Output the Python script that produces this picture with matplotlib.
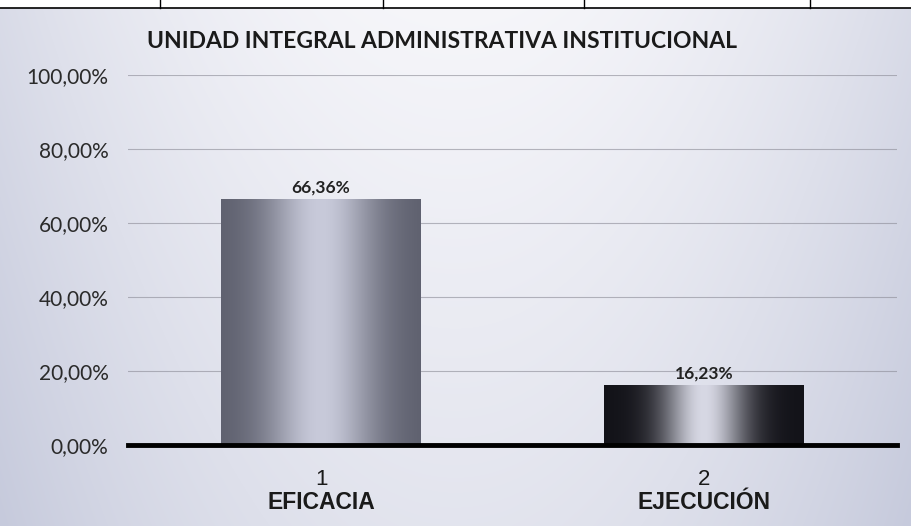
import numpy as np
import matplotlib
matplotlib.use("Agg")
from matplotlib import pyplot as plt
from matplotlib.ticker import FuncFormatter

# chart data
categorias = ["EFICACIA", "EJECUCIÓN"]
numeros = ["1", "2"]
valores = [66.36, 16.23]
etiquetas = ["66,36%", "16,23%"]
titulo = "UNIDAD INTEGRAL ADMINISTRATIVA INSTITUCIONAL"
yticks = [0, 20, 40, 60, 80, 100]

fig = plt.figure(figsize=(9.11, 5.26), dpi=100)

# scanned background: bluish grey with a lighter centre
bg = fig.add_axes([0, 0, 1, 1], zorder=-10)
h, w = 526, 911
xx = np.linspace(-1, 1, w)[None, :]
yy = np.linspace(0, 1, h)[:, None]
light = np.clip(1 - 0.6 * xx**2 - 0.4 * yy, 0, 1)
edge = np.array([198, 202, 220]) / 255
centre = np.array([246, 246, 250]) / 255
img = edge + (centre - edge) * light[..., None]
img[:8, :, :] = 1.0
bg.imshow(img, aspect="auto", extent=[0, 1, 0, 1], origin="upper")
bg.axis("off")
bg.set_xlim(0, 1)
bg.set_ylim(0, 1)
# table border at the top of the scan
bg.axhline(1 - 8 / 526, color="black", lw=1.2)
for xv in [160, 383, 584, 810]:
    bg.plot([xv / 911, xv / 911], [1, 1 - 8 / 526], color="black", lw=1)

ax = fig.add_axes([128 / 911, 81 / 526, 769 / 911, 370 / 526])
ax.patch.set_alpha(0)
x = np.arange(len(valores))
bars = ax.bar(x, valores, width=0.522, color="none", zorder=3)

# horizontal gradients: dark edges, light middle
perfiles = [
    (np.array([92, 94, 108]), np.array([200, 202, 218]), 0.55),
    (np.array([18, 18, 24]), np.array([215, 216, 228]), 0.42),
]
t = np.linspace(-1, 1, 200)
for b, (oscuro, claro, ancho) in zip(bars, perfiles):
    k = np.exp(-(t / ancho) ** 2)
    row = (oscuro + (claro - oscuro) * k[:, None]) / 255
    grad = np.repeat(row[None, :, :], 2, axis=0)
    x0, y0 = b.get_x(), b.get_y()
    im = ax.imshow(grad, aspect="auto", extent=[x0, x0 + b.get_width(), y0, y0 + b.get_height()],
                   zorder=3, interpolation="bilinear")
    im.set_clip_path(b)

for xi, v, lab in zip(x, valores, etiquetas):
    ax.text(xi, v + 1.0, lab, ha="center", va="bottom", fontsize=12.5, fontweight="bold",
            family="Lato", color="#222222")

ax.set_xlim(-0.504, 1.504)
ax.set_ylim(0, 100)
ax.set_yticks(yticks)
ax.yaxis.set_major_formatter(FuncFormatter(lambda v, p: ("%.2f" % v).replace(".", ",") + "%"))
ax.grid(axis="y", color="#8a8a95", lw=0.8, alpha=0.6, zorder=0)
ax.set_xticks(x)
ax.set_xticklabels([])
ax.tick_params(length=0)
for lab in ax.get_yticklabels():
    lab.set_family("Lato")
    lab.set_fontsize(15)
    lab.set_color("#2a2a2a")
ax.tick_params(axis="y", pad=14)
for s in ["top", "right", "left"]:
    ax.spines[s].set_visible(False)
ax.spines["bottom"].set_linewidth(3.5)
ax.spines["bottom"].set_color("black")
ax.spines["bottom"].set_zorder(5)

for xi, n, c in zip(x, numeros, categorias):
    ax.text(xi, -9.3, n, ha="center", va="center", fontsize=16, family="Liberation Sans",
            color="#1a1a1a")
    ax.text(xi, -15.6, c, ha="center", va="center", fontsize=16.5, fontweight="bold",
            family="Liberation Sans", color="#1a1a1a")

fig.text(442 / 911, 1 - 42 / 526, titulo, ha="center", va="center", fontsize=16.5,
         fontweight="bold", family="Lato", color="#1a1a1a")

fig.savefig("out.png", dpi=100)
